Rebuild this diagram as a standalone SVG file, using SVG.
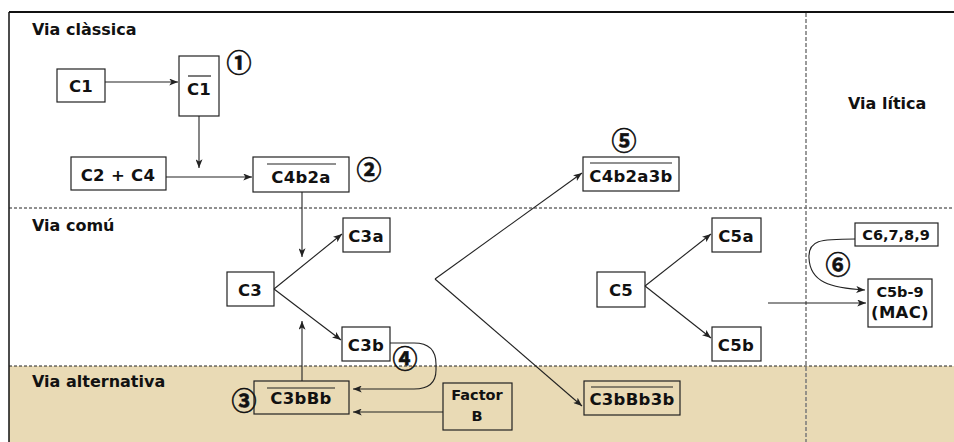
<svg xmlns="http://www.w3.org/2000/svg" width="954" height="442" viewBox="0 0 954 442">
<style>
.bg{fill:#ffffff}
.alt{fill:#E9DAB5}
.frame{stroke:#111;fill:none}
.hd{stroke:#222;stroke-width:1;stroke-dasharray:3 2;fill:none}
.vd{stroke:#7a7a7a;stroke-width:1.5;stroke-dasharray:4 2;fill:none}
.box{fill:none;stroke:#222;stroke-width:1.2}
.t{font-family:"DejaVu Sans",sans-serif;font-weight:bold;font-size:16.5px;fill:#111;text-anchor:middle;letter-spacing:0.3px}
.ts{font-family:"DejaVu Sans",sans-serif;font-weight:bold;font-size:14.5px;fill:#111;text-anchor:middle}
.lbl{font-family:"DejaVu Sans",sans-serif;font-weight:bold;font-size:16px;fill:#111}
.num{font-family:"Noto Sans CJK JP",sans-serif;font-weight:bold;font-size:25px;fill:#111;stroke:#111;stroke-width:0.6px;text-anchor:middle}
.ov{stroke:#222;stroke-width:1.2}
.c{stroke:#222;stroke-width:1.1;fill:none;marker-end:url(#ah)}
</style>
<defs>
<marker id="ah" markerUnits="userSpaceOnUse" viewBox="0 0 10 8" refX="10" refY="4" markerWidth="9" markerHeight="7" orient="auto">
<path d="M0,0 L10,4 L0,8 L2.5,4 z" fill="#222"/>
</marker>
</defs>
<rect class="bg" x="0" y="0" width="954" height="442"/>
<rect class="alt" x="9" y="366" width="945" height="76"/>
<g id="frame">
<line class="frame" x1="9" y1="12" x2="954" y2="12" stroke-width="2"/>
<line class="frame" x1="9" y1="12" x2="9" y2="442" stroke-width="1.5"/>
<line class="hd" x1="9" y1="208" x2="954" y2="208"/>
<line class="hd" x1="9" y1="366" x2="954" y2="366" stroke="#4a4636"/>
<line class="vd" x1="806" y1="13" x2="806" y2="442"/>
</g>
<g id="labels">
<text class="lbl" x="32" y="35">Via clàssica</text>
<text class="lbl" x="32" y="231">Via comú</text>
<text class="lbl" x="32" y="387">Via alternativa</text>
<text class="lbl" x="848" y="109">Via lítica</text>
</g>
<g id="connectors">
<path class="c" d="M105 82 H178"/>
<path class="c" d="M199 116 V168"/>
<path class="c" d="M166 177 H252"/>
<path class="c" d="M302 192 V257"/>
<path class="c" d="M274 289 L342 234"/>
<path class="c" d="M274 289 L341 340"/>
<path class="c" d="M302 381 V321"/>
<path class="c" d="M390 343 H414 Q436 343 436 364 V370 Q436 389 414 389 H353"/>
<path class="c" d="M443 412 H353"/>
<path class="c" d="M435 279 L582 173"/>
<path class="c" d="M435 279 L582 406"/>
<path class="c" d="M645 286 L711 234"/>
<path class="c" d="M645 286 L711 338"/>
<path class="c" d="M768 303 H866"/>
<path class="c" d="M855 239 C820 239 808 240 809 258 C810 282 830 288 865 290"/>
</g>
<g id="n-c1">
<rect class="box" x="57" y="69" width="48" height="33"/>
<text class="t" x="81" y="92">C1</text>
</g>
<g id="n-c1bar">
<rect class="box" x="179" y="56" width="40" height="60"/>
<line class="ov" x1="188" y1="76" x2="211" y2="76"/>
<text class="t" x="199" y="95">C1</text>
</g>
<g id="n-c2c4">
<rect class="box" x="71" y="157" width="95" height="33"/>
<text class="t" x="118" y="181">C2 + C4</text>
</g>
<g id="n-c4b2a">
<rect class="box" x="253" y="157" width="96" height="35"/>
<line class="ov" x1="267" y1="164" x2="336" y2="164"/>
<text class="t" x="301" y="183">C4b2a</text>
</g>
<g id="n-c3">
<rect class="box" x="227" y="272" width="47" height="34"/>
<text class="t" x="250" y="296">C3</text>
</g>
<g id="n-c3a">
<rect class="box" x="343" y="218" width="47" height="34"/>
<text class="t" x="366" y="242">C3a</text>
</g>
<g id="n-c3b">
<rect class="box" x="342" y="327" width="48" height="34"/>
<text class="t" x="366" y="351">C3b</text>
</g>
<g id="n-c3bbb">
<rect class="box" x="254" y="381" width="95" height="33"/>
<line class="ov" x1="267" y1="388" x2="335" y2="388"/>
<text class="t" x="301" y="404">C3bBb</text>
</g>
<g id="n-factorb">
<rect class="box" x="443" y="383" width="69" height="47"/>
<text class="ts" x="477" y="400">Factor</text>
<text class="ts" x="477" y="421">B</text>
</g>
<g id="n-c4b2a3b">
<rect class="box" x="583" y="157" width="96" height="34"/>
<line class="ov" x1="590" y1="163" x2="672" y2="163"/>
<text class="t" x="631" y="182">C4b2a3b</text>
</g>
<g id="n-c3bbb3b">
<rect class="box" x="584" y="381" width="96" height="34"/>
<line class="ov" x1="591" y1="387" x2="673" y2="387"/>
<text class="t" x="632" y="405">C3bBb3b</text>
</g>
<g id="n-c5">
<rect class="box" x="597" y="272" width="48" height="35"/>
<text class="t" x="621" y="296">C5</text>
</g>
<g id="n-c5a">
<rect class="box" x="712" y="218" width="49" height="34"/>
<text class="t" x="736" y="242">C5a</text>
</g>
<g id="n-c5b">
<rect class="box" x="712" y="327" width="49" height="34"/>
<text class="t" x="736" y="351">C5b</text>
</g>
<g id="n-c6789">
<rect class="box" x="855" y="223" width="83" height="23"/>
<text class="ts" x="896" y="240" font-size="13px">C6,7,8,9</text>
</g>
<g id="n-mac">
<rect class="box" x="868" y="279" width="64" height="48"/>
<text class="ts" x="900" y="297">C5b-9</text>
<text class="t" x="900" y="318">(MAC)</text>
</g>
<g id="steps">
<text class="num" x="239" y="72">①</text>
<text class="num" x="369" y="179">②</text>
<text class="num" x="244" y="410">③</text>
<text class="num" x="405" y="368">④</text>
<text class="num" x="624" y="150">⑤</text>
<text class="num" x="838" y="274">⑥</text>
</g>
</svg>
